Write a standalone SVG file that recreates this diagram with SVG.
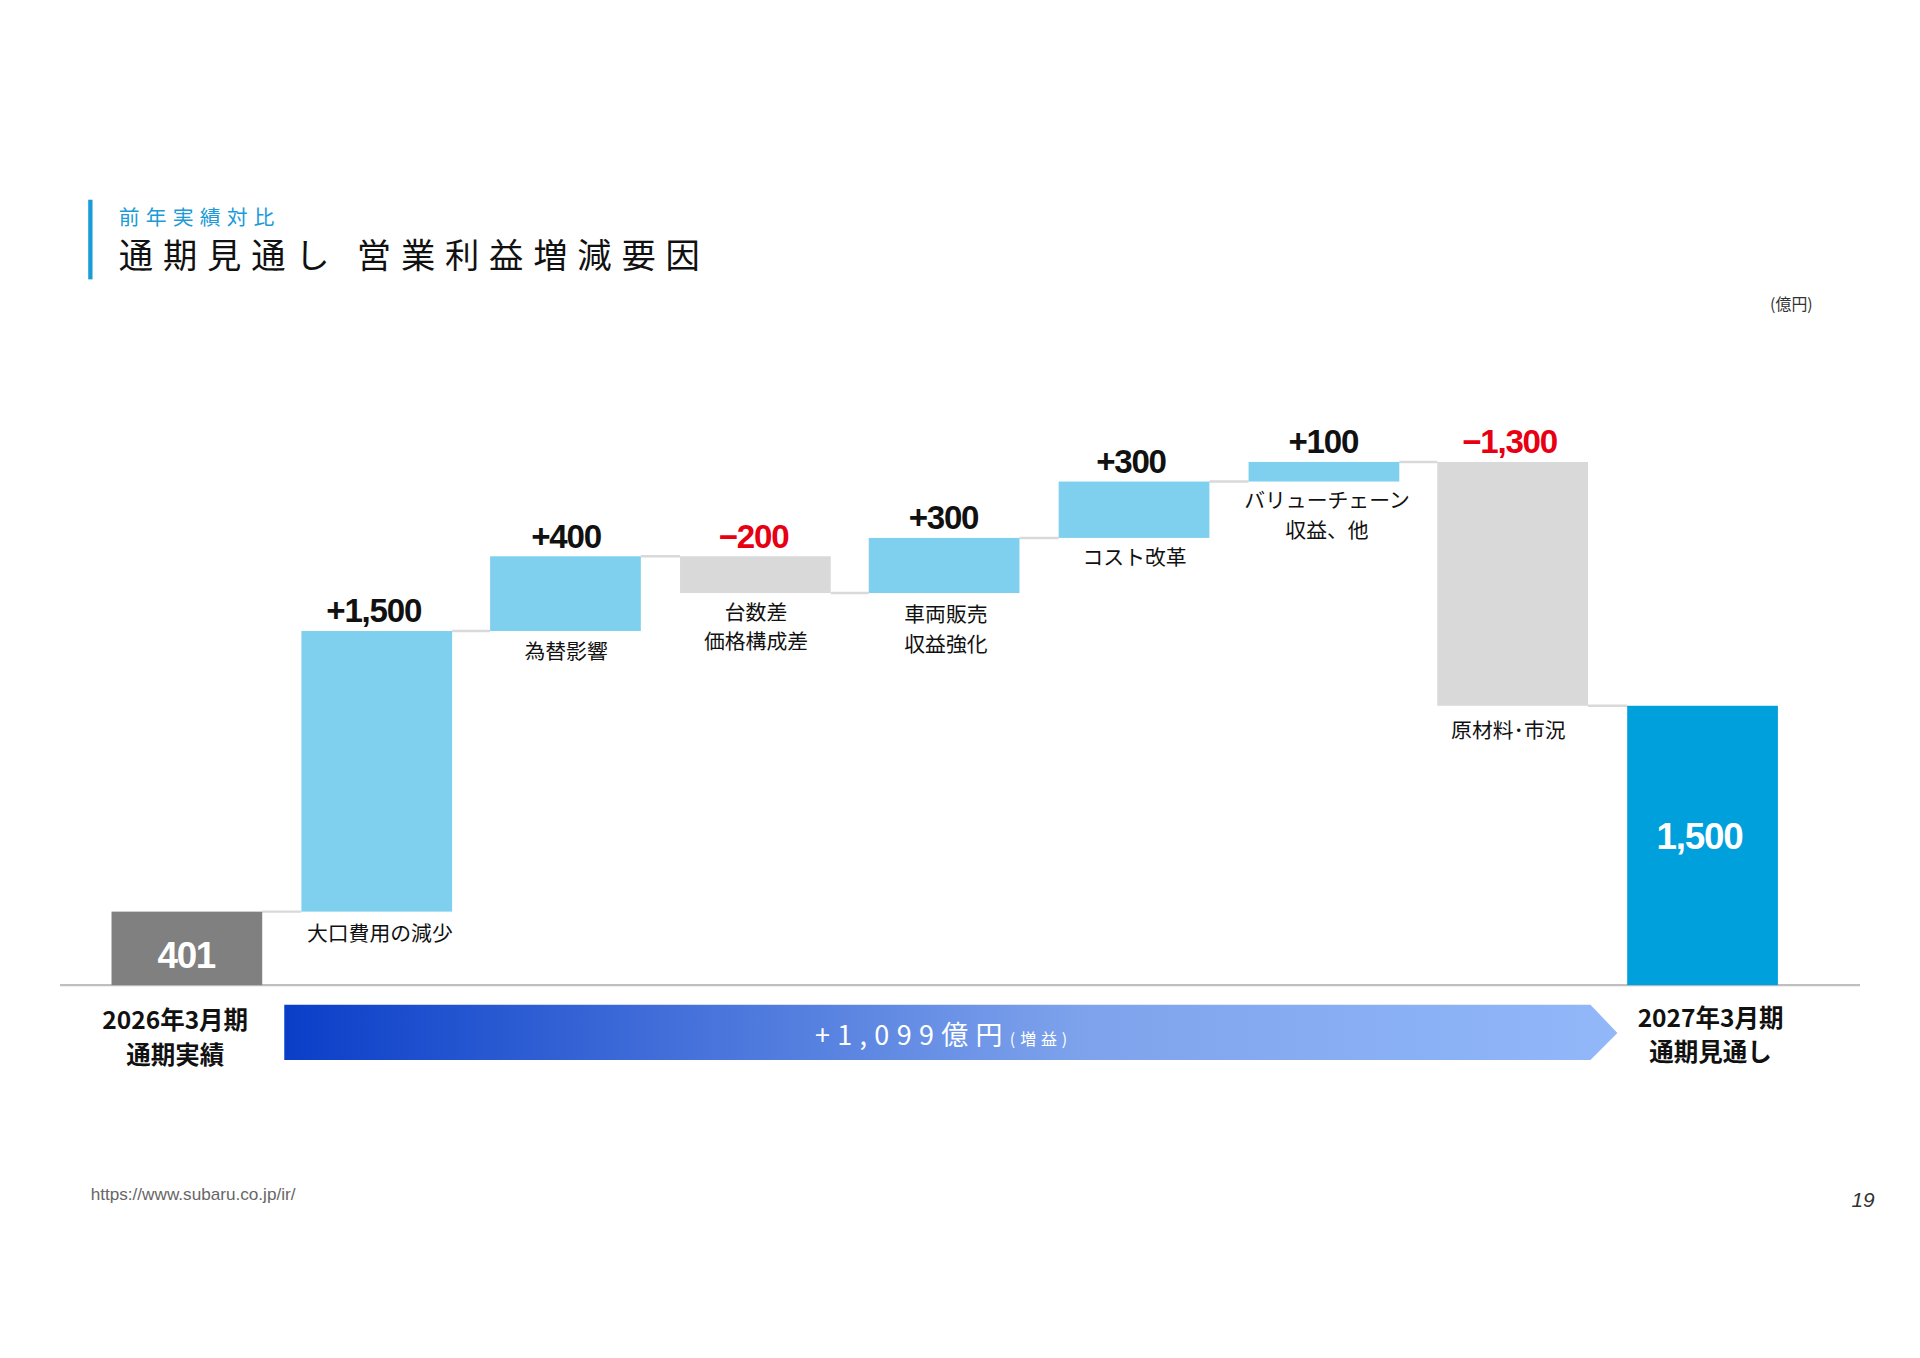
<svg xmlns="http://www.w3.org/2000/svg" width="1920" height="1358" viewBox="0 0 1920 1358">
<defs>
<linearGradient id="ag" x1="0" y1="0" x2="1" y2="0">
<stop offset="0" stop-color="#0a3ec8"/><stop offset="0.6" stop-color="#7ea3ec"/><stop offset="1" stop-color="#92b8fa"/>
</linearGradient>
<style>
.jp{font-family:"Noto Sans CJK JP",sans-serif;}
.lbl{font-family:"Noto Sans CJK JP",sans-serif;font-size:17px;fill:#111;text-anchor:middle;}
.num{font-family:"Liberation Sans",Arial,sans-serif;font-weight:bold;font-size:27px;text-anchor:middle;fill:#111;letter-spacing:-1px;}
.neg{fill:#e60012;}
.up{fill:#7fcfee;}
.dn{fill:#d9d9d9;}
.con{stroke:#d9d9d9;stroke-width:2;}
.cat{font-family:"Noto Sans CJK JP",sans-serif;font-weight:bold;font-size:20px;fill:#111;text-anchor:middle;}
</style>
</defs>
<rect width="1920" height="1358" fill="#fff"/>
<g transform="scale(1.2253)">
<g id="header">
<rect x="72" y="163" width="3.5" height="65" fill="#1b9bd7"/>
<text x="97" y="184" class="jp" font-size="17" fill="#1b9bd7" letter-spacing="5">前年実績対比</text>
<text x="97" y="219" class="jp" font-size="28" fill="#111" letter-spacing="8">通期見通し 営業利益増減要因</text>
<text x="1462" y="253" class="jp" font-size="13" fill="#333" text-anchor="middle">(億円)</text>
</g>
<g id="connectors">
<line class="con" x1="214" y1="744" x2="246" y2="744"/>
<line class="con" x1="369" y1="515" x2="400" y2="515"/>
<line class="con" x1="523" y1="454" x2="555" y2="454"/>
<line class="con" x1="678" y1="484" x2="709" y2="484"/>
<line class="con" x1="832" y1="439" x2="864" y2="439"/>
<line class="con" x1="987" y1="393" x2="1019" y2="393"/>
<line class="con" x1="1142" y1="377" x2="1173" y2="377"/>
<line class="con" x1="1296" y1="576" x2="1328" y2="576"/>
<line x1="49" y1="804" x2="1518" y2="804" stroke="#bfbfbf" stroke-width="2"/>
</g>
<g id="bar-2026">
<rect x="91" y="744" width="123" height="60" fill="#808080"/>
<text x="152" y="790" class="num" style="fill:#fff;font-size:30px">401</text>
</g>
<g id="bar-oguchi">
<rect class="up" x="246" y="515" width="123" height="229"/>
<text x="305" y="508" class="num">+1,500</text>
<text x="310" y="768" class="lbl">大口費用の減少</text>
</g>
<g id="bar-fx">
<rect class="up" x="400" y="454" width="123" height="61"/>
<text x="462" y="447" class="num">+400</text>
<text x="462" y="538" class="lbl">為替影響</text>
</g>
<g id="bar-volume">
<rect class="dn" x="555" y="454" width="123" height="30"/>
<text x="615" y="447" class="num neg">−200</text>
<text x="617" y="506" class="lbl">台数差</text>
<text x="617" y="530" class="lbl">価格構成差</text>
</g>
<g id="bar-sales">
<rect class="up" x="709" y="439" width="123" height="45"/>
<text x="770" y="432" class="num">+300</text>
<text x="772" y="508" class="lbl">車両販売</text>
<text x="772" y="532" class="lbl">収益強化</text>
</g>
<g id="bar-cost">
<rect class="up" x="864" y="393" width="123" height="46"/>
<text x="923" y="386" class="num">+300</text>
<text x="926" y="461" class="lbl">コスト改革</text>
</g>
<g id="bar-value">
<rect class="up" x="1019" y="377" width="123" height="16"/>
<text x="1080" y="370" class="num">+100</text>
<text x="1083" y="415" class="lbl">バリューチェーン</text>
<text x="1083" y="439" class="lbl">収益、他</text>
</g>
<g id="bar-material">
<rect class="dn" x="1173" y="377" width="123" height="199"/>
<text x="1232" y="370" class="num neg">−1,300</text>
<text x="1231" y="602" class="lbl">原材料･市況</text>
</g>
<g id="bar-2027">
<rect x="1328" y="576" width="123" height="228" fill="#00a0dc"/>
<text x="1387" y="693" class="num" style="fill:#fff;font-size:30px">1,500</text>
</g>
<g id="arrow">
<polygon points="232,820 1298,820 1320,843 1298,865 232,865" fill="url(#ag)"/>
<text x="770" y="853" class="jp" font-size="22" fill="#fff" text-anchor="middle" letter-spacing="6">+1,099億円<tspan font-size="13" letter-spacing="4">(増益)</tspan></text>
</g>
<g id="cat-left">
<text x="143" y="840" class="cat">2026年3月期</text>
<text x="143" y="868" class="cat">通期実績</text>
</g>
<g id="cat-right">
<text x="1396" y="838" class="cat">2027年3月期</text>
<text x="1396" y="866" class="cat">通期見通し</text>
</g>
<g id="footer">
<text x="74" y="979" font-family="Liberation Sans,Arial,sans-serif" font-size="14" fill="#666">https://www.subaru.co.jp/ir/</text>
<text x="1530" y="985" font-family="Liberation Sans,Arial,sans-serif" font-size="17" font-style="italic" fill="#333" text-anchor="end">19</text>
</g>
</g>
</svg>
